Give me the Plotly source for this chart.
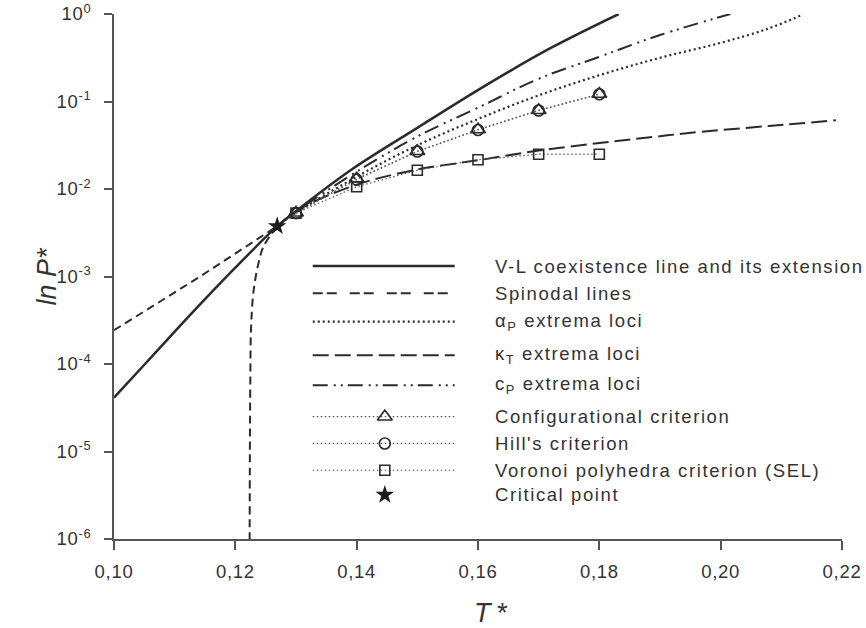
import plotly.graph_objects as go

# ---------------- data ----------------
T_vl = [0.100, 0.105, 0.110, 0.115, 0.120, 0.1269, 0.130, 0.139, 0.150, 0.161, 0.172, 0.1832]
P_vl = [4.13e-5, 9.8e-5, 2.34e-4, 5.5e-4, 1.26e-3, 3.76e-3, 5.6e-3, 1.64e-2, 5.0e-2, 1.49e-1, 4.09e-1, 1.0]

T_sp1 = [0.100, 0.1142, 0.1269]
P_sp1 = [2.43e-4, 1.0e-3, 3.76e-3]

T_sp2 = [0.1269, 0.12467, 0.12384, 0.12329, 0.12291, 0.12258, 0.12247, 0.12240, 0.12236]
P_sp2 = [3.76e-3, 2.22e-3, 1.44e-3, 9.3e-4, 5.97e-4, 2.49e-4, 6.7e-5, 1.0e-5, 1.0e-6]

T_ap = [0.1269, 0.130, 0.140, 0.150, 0.160, 0.170, 0.180, 0.190, 0.200, 0.2077, 0.2131]
P_ap = [3.76e-3, 5.37e-3, 1.38e-2, 3.16e-2, 6.31e-2, 0.1175, 0.1995, 0.316, 0.468, 0.676, 0.955]

T_kt = [0.1269, 0.1308, 0.140, 0.150, 0.160, 0.170, 0.180, 0.1884, 0.1967, 0.208, 0.219]
P_kt = [3.76e-3, 6.0e-3, 1.12e-2, 1.67e-2, 2.13e-2, 2.75e-2, 3.35e-2, 3.9e-2, 4.5e-2, 5.25e-2, 6.1e-2]

T_cp = [0.1269, 0.130, 0.140, 0.150, 0.160, 0.170, 0.180, 0.190, 0.2016]
P_cp = [3.76e-3, 5.5e-3, 1.58e-2, 3.98e-2, 8.5e-2, 0.182, 0.324, 0.575, 1.0]

T_pts = [0.13, 0.14, 0.15, 0.16, 0.17, 0.18]
P_conf = [5.35e-3, 1.31e-2, 2.70e-2, 4.78e-2, 7.94e-2, 0.122]
P_hill = [5.3e-3, 1.28e-2, 2.68e-2, 4.72e-2, 7.9e-2, 0.121]
P_vor = [5.3e-3, 1.06e-2, 1.64e-2, 2.16e-2, 2.50e-2, 2.50e-2]

T_crit = [0.1269]
P_crit = [3.76e-3]

x_tickvals = [0.10, 0.12, 0.14, 0.16, 0.18, 0.20, 0.22]
x_ticktext = ["0,10", "0,12", "0,14", "0,16", "0,18", "0,20", "0,22"]
y_tickvals = [1e-6, 1e-5, 1e-4, 1e-3, 1e-2, 1e-1, 1e0]
y_ticktext = ["10<sup>-6</sup>", "10<sup>-5</sup>", "10<sup>-4</sup>", "10<sup>-3</sup>",
              "10<sup>-2</sup>", "10<sup>-1</sup>", "10<sup>0</sup>"]

x_title = "<i>T\u2009*</i>"
y_title = "<i>ln P*</i>"

legend_labels = [
    "V-L coexistence line and its extension",
    "Spinodal lines",
    "α<sub>P</sub> extrema loci",
    "κ<sub>T</sub> extrema loci",
    "c<sub>P</sub> extrema loci",
    "Configurational criterion",
    "Hill's criterion",
    "Voronoi polyhedra criterion (SEL)",
    "Critical point",
]

# ---------------- styles ----------------
INK = "#2b2b2b"
AX = "#555555"
TXT = "#333333"
FONT = "Liberation Sans, Arial, sans-serif"

st_vl = dict(color=INK, width=2.5)
st_sp = dict(color=INK, width=2, dash="8px,5px")
st_sp_leg = dict(color=INK, width=2, dash="10px,4px,10px,13px")
st_ap = dict(color=INK, width=2.2, dash="2px,3px")
st_kt = dict(color=INK, width=2, dash="16px,6px")
st_cp = dict(color=INK, width=2, dash="15px,6px,2px,5px,2px,5px")
st_conn = dict(color="#555555", width=1.2, dash="1.5px,2.5px")

mk_tri = dict(symbol="triangle-up-open", size=13, color=INK, line=dict(width=1.6, color=INK))
mk_cir = dict(symbol="circle-open", size=11, color=INK, line=dict(width=1.6, color=INK))
mk_sq = dict(symbol="square-open", size=10, color=INK, line=dict(width=1.6, color=INK))
mk_star = dict(symbol="star", size=14, color="#1a1a1a", line=dict(width=0))

fig = go.Figure()

def line(x, y, style, smooth=True):
    fig.add_trace(go.Scatter(x=x, y=y, mode="lines", line=dict(**style,
                  shape="spline" if smooth else "linear"),
                  showlegend=False, hoverinfo="skip"))

line(T_vl, P_vl, st_vl)
line(T_sp1, P_sp1, st_sp, smooth=False)
line(T_sp2, P_sp2, st_sp)
line(T_ap, P_ap, st_ap)
line(T_kt, P_kt, st_kt)
line(T_cp, P_cp, st_cp)

for P, mk in [(P_conf, mk_tri), (P_hill, mk_cir), (P_vor, mk_sq)]:
    fig.add_trace(go.Scatter(x=T_pts, y=P, mode="lines+markers", line=st_conn,
                             marker=mk, showlegend=False, hoverinfo="skip"))

fig.add_trace(go.Scatter(x=T_crit, y=P_crit, mode="markers", marker=mk_star,
                         showlegend=False, hoverinfo="skip"))

# ---------------- custom legend (overlay axes in [0,1]) ----------------
leg_x0, leg_x1, leg_xm = 0.273, 0.468, 0.372
leg_tx = 0.520
leg_rows = [0.520, 0.468, 0.414, 0.350, 0.293, 0.233, 0.182, 0.131, 0.084]
leg_styles = [st_vl, st_sp_leg, st_ap, st_kt, st_cp, st_conn, st_conn, st_conn, None]
leg_marks = [None, None, None, None, None, mk_tri, mk_cir, mk_sq, mk_star]

for yr, stl, mk, lab in zip(leg_rows, leg_styles, leg_marks, legend_labels):
    if stl is not None:
        fig.add_trace(go.Scatter(x=[leg_x0, leg_x1], y=[yr, yr], mode="lines", line=stl,
                                 xaxis="x2", yaxis="y2", showlegend=False, hoverinfo="skip"))
    if mk is not None:
        fig.add_trace(go.Scatter(x=[leg_xm], y=[yr], mode="markers", marker=mk,
                                 xaxis="x2", yaxis="y2", showlegend=False, hoverinfo="skip"))
    fig.add_annotation(x=leg_tx, y=yr, xref="paper", yref="paper", text=lab,
                       showarrow=False, xanchor="left", yanchor="middle", align="left",
                       font=dict(family=FONT, size=18.5, color=TXT))

# axis titles
fig.add_annotation(x=0.518, y=-0.141, xref="paper", yref="paper", text=x_title,
                   showarrow=False, xanchor="center", yanchor="middle",
                   font=dict(family=FONT, size=27, color=TXT))
fig.add_annotation(x=-0.0934, y=0.50, xref="paper", yref="paper", text=y_title,
                   showarrow=False, xanchor="center", yanchor="middle", textangle=-90,
                   font=dict(family=FONT, size=27, color=TXT))

fig.update_layout(
    width=866, height=628, autosize=False,
    margin=dict(l=114, r=24, t=14, b=89),
    paper_bgcolor="white", plot_bgcolor="white",
    font=dict(family=FONT, size=18, color=TXT),
    showlegend=False,
    xaxis=dict(range=[0.10, 0.22], tickvals=x_tickvals, ticktext=x_ticktext,
               automargin=False,
               showgrid=False, zeroline=False, showline=True, linecolor=AX, linewidth=2,
               ticks="outside", ticklen=9, tickwidth=1.5, tickcolor=AX,
               ticklabelstandoff=6,
               tickfont=dict(size=18.5, color=TXT)),
    yaxis=dict(type="log", range=[-6, 0], tickvals=y_tickvals, ticktext=y_ticktext,
               automargin=False,
               showgrid=False, zeroline=False, showline=True, linecolor=AX, linewidth=2,
               ticks="outside", ticklen=8, tickwidth=1.5, tickcolor=AX,
               ticklabelstandoff=9,
               tickfont=dict(size=18.5, color=TXT)),
    xaxis2=dict(overlaying="x", range=[0, 1], visible=False, anchor="y2"),
    yaxis2=dict(overlaying="y", range=[0, 1], visible=False, anchor="x2"),
)

post = """
document.body.style.margin = '0';
document.querySelectorAll('.annotation-text').forEach(function(t){
  if (t.textContent.length > 6) { t.style.letterSpacing = '1.6px'; }
});
document.querySelectorAll('.xtick text, .ytick text').forEach(function(t){ t.style.letterSpacing = '0.7px'; });
"""

fig.write_html("out.html", post_script=post, config={"displayModeBar": False})
